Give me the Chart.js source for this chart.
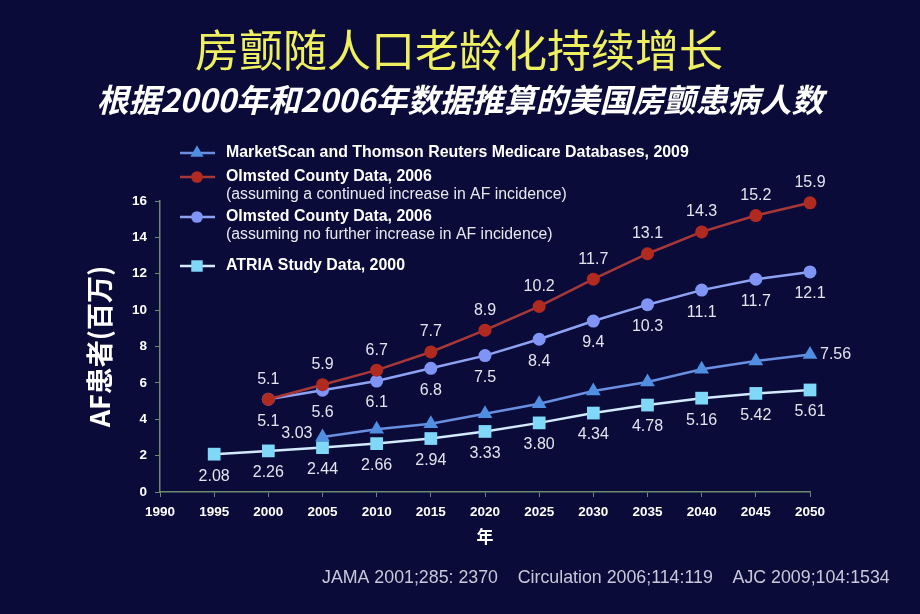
<!DOCTYPE html>
<html><head><meta charset="utf-8">
<script src="https://cdn.jsdelivr.net/npm/chart.js@4.4.1/dist/chart.umd.min.js"></script>
<style>
html,body{margin:0;padding:0;background:#0b0b3a;}
#wrap{width:920px;height:614px;position:relative;}
</style></head>
<body><div id="wrap"><canvas id="c" width="920" height="614"></canvas></div>
<script>
const years = [1990,1995,2000,2005,2010,2015,2020,2025,2030,2035,2040,2045,2050];
const marketScanYears = [2005,2010,2015,2020,2025,2030,2035,2040,2045,2050];
const marketScan = [3.03,3.45,3.75,4.3,4.85,5.55,6.05,6.75,7.2,7.56];
const olmstedYears = [2000,2005,2010,2015,2020,2025,2030,2035,2040,2045,2050];
const olmstedIncrease = [5.1,5.9,6.7,7.7,8.9,10.2,11.7,13.1,14.3,15.2,15.9];
const olmstedFlat = [5.1,5.6,6.1,6.8,7.5,8.4,9.4,10.3,11.1,11.7,12.1];
const atriaYears = [1995,2000,2005,2010,2015,2020,2025,2030,2035,2040,2045,2050];
const atria = [2.08,2.26,2.44,2.66,2.94,3.33,3.80,4.34,4.78,5.16,5.42,5.61];
const atriaLabels = ['2.08','2.26','2.44','2.66','2.94','3.33','3.80','4.34','4.78','5.16','5.42','5.61'];
const yTicks = [0,2,4,6,8,10,12,14,16];

const titleText = '房颤随人口老龄化持续增长';
const subtitleText = '根据2000年和2006年数据推算的美国房颤患病人数';
const footerText = 'JAMA 2001;285: 2370    Circulation 2006;114:119    AJC 2009;104:1534';
const legendItems = [
  {main:'MarketScan and Thomson Reuters Medicare Databases, 2009', sub:null},
  {main:'Olmsted County Data, 2006', sub:'(assuming a continued increase in AF incidence)'},
  {main:'Olmsted County Data, 2006', sub:'(assuming no further increase in AF incidence)'},
  {main:'ATRIA Study Data, 2000', sub:null}
];

const pts = (xs, ys) => xs.map((x,i)=>({x:x, y:ys[i]}));
const LBL = "'Liberation Sans', Arial, sans-serif";
const CJK = "'Noto Sans CJK SC', sans-serif";

const datasets = [
  {label:legendItems[0].main, data:pts(marketScanYears, marketScan), borderColor:'#6a8fe0', backgroundColor:'#4f8ee0',
   pointStyle:'triangle', pointRadius:8.5, borderWidth:2.5, pointBorderWidth:0, labelMode:'ms', clip:false},
  {label:legendItems[1].main, data:pts(olmstedYears, olmstedIncrease), borderColor:'#a83838', backgroundColor:'#b02a20',
   pointStyle:'circle', pointRadius:6.5, borderWidth:2.5, pointBorderWidth:0, labelMode:'above', clip:false},
  {label:legendItems[2].main, data:pts(olmstedYears, olmstedFlat), borderColor:'#8ea2f2', backgroundColor:'#7f94f5',
   pointStyle:'circle', pointRadius:6.5, borderWidth:2.5, pointBorderWidth:0, labelMode:'below', clip:false},
  {label:legendItems[3].main, data:pts(atriaYears, atria), borderColor:'#d4eaff', backgroundColor:'#7fd8f8',
   pointStyle:'rect', pointRadius:9, borderWidth:2.5, pointBorderWidth:0, labelMode:'below', labels:atriaLabels, clip:false}
];

const decor = {
  id:'decor',
  beforeDraw(chart){
    const ctx = chart.ctx;
    ctx.save();
    ctx.fillStyle = '#0b0b3a';
    ctx.fillRect(0,0,chart.width,chart.height);
    ctx.restore();
  },
  afterDatasetsDraw(chart){
    const ctx = chart.ctx;
    ctx.save();
    ctx.font = "16px " + LBL;
    ctx.fillStyle = '#e4e4ee';
    ctx.textBaseline = 'middle';
    chart.data.datasets.forEach((ds, di)=>{
      const meta = chart.getDatasetMeta(di);
      meta.data.forEach((el, i)=>{
        const v = ds.data[i].y;
        const txt = ds.labels ? ds.labels[i] : String(v);
        if (ds.labelMode === 'above'){
          ctx.textAlign='center'; ctx.fillText(txt, el.x, el.y - 20);
        } else if (ds.labelMode === 'below'){
          ctx.textAlign='center'; ctx.fillText(txt, el.x, el.y + 22);
        } else if (ds.labelMode === 'ms'){
          if (i === 0){ ctx.textAlign='right'; ctx.fillText(txt, el.x - 10, el.y - 3); }
          else if (i === ds.data.length-1){ ctx.textAlign='left'; ctx.fillText(txt, el.x + 10, el.y); }
        }
      });
    });
    ctx.restore();
  },
  afterDraw(chart){
    const ctx = chart.ctx;
    ctx.save();
    ctx.textAlign='center'; ctx.textBaseline='middle';
    ctx.fillStyle = '#eef060';
    ctx.font = "44px " + CJK;
    ctx.fillText(titleText, 459, 50);
    ctx.fillStyle = '#ffffff';
    ctx.font = "italic bold 32px " + CJK;
    ctx.fillText(subtitleText, 460, 100);
    ctx.font = "17.8px " + LBL;
    ctx.fillStyle = '#c8c8da';
    ctx.textAlign='left';
    ctx.fillText(footerText, 322, 578);
    const rows = [153, 177, 217, 266];
    legendItems.forEach((it, i)=>{
      const ds = chart.data.datasets[i];
      const y = rows[i];
      ctx.strokeStyle = ds.borderColor; ctx.lineWidth = 2.5;
      ctx.beginPath(); ctx.moveTo(180,y); ctx.lineTo(215,y); ctx.stroke();
      ctx.fillStyle = ds.backgroundColor; ctx.strokeStyle = ds.backgroundColor; ctx.lineWidth = 0;
      Chart.helpers.drawPoint(ctx, {pointStyle:ds.pointStyle, radius:ds.pointRadius*0.9, rotation:0, borderWidth:0}, 197, y);
      ctx.fillStyle = '#ffffff';
      ctx.textAlign='left'; ctx.textBaseline='middle';
      ctx.font = "bold 15.9px " + LBL;
      ctx.fillText(it.main, 226, y);
      if (it.sub){
        ctx.font = "15.8px " + LBL;
        ctx.fillStyle = '#e8e8f0';
        ctx.fillText(it.sub, 226, y + 18);
      }
    });
    ctx.restore();
  }
};

new Chart(document.getElementById('c'), {
  type:'line',
  data:{datasets},
  options:{
    responsive:false,
    animation:false,
    layout:{padding:{left:0, right:110, top:201, bottom:0}},
    plugins:{legend:{display:false}, tooltip:{enabled:false}, title:{display:false}},
    scales:{
      x:{type:'linear', min:years[0], max:years[years.length-1],
         afterBuildTicks(s){ s.ticks = years.map(v=>({value:v})); },
         afterFit(s){ s.height = 122; },
         grid:{drawOnChartArea:false, drawTicks:true, tickLength:5, color:'#6e8a6e'},
         border:{color:'#6e8a6e', width:1.5},
         ticks:{color:'#ffffff', font:{family:LBL, weight:'bold', size:13.5}, padding:7, callback:(v)=>String(v), maxRotation:0, autoSkip:false},
         title:{display:true, text:'年', color:'#ffffff', font:{family:CJK, weight:'bold', size:17}, padding:{top:0,bottom:67}}
      },
      y:{min:0, max:16,
         afterBuildTicks(s){ s.ticks = yTicks.map(v=>({value:v})); },
         afterFit(s){ s.width = 160; },
         grid:{drawOnChartArea:false, drawTicks:true, tickLength:5, color:'#6e8a6e'},
         border:{color:'#6e8a6e', width:1.5},
         ticks:{color:'#ffffff', font:{family:LBL, weight:'bold', size:13.5}, padding:8},
         title:{display:true, text:'AF患者(百万)', color:'#ffffff', font:{family:CJK, weight:'bold', size:27}, padding:{top:84, bottom:0}}
      }
    }
  },
  plugins:[decor]
});
</script></body></html>
